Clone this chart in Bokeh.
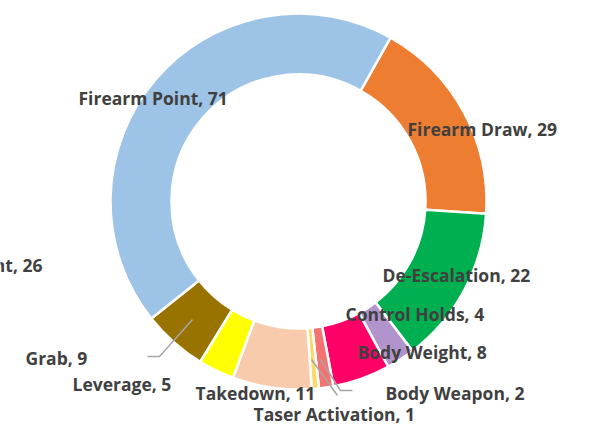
import numpy as np
from bokeh.plotting import figure
from bokeh.models import Range1d, ColumnDataSource
from bokeh.core.properties import value
from bokeh.embed import file_html
from bokeh.resources import INLINE

# ---- data ----
categories = ["Firearm Draw", "De-Escalation", "Control Holds", "Body Weight",
              "Body Weapon", "Taser Activation", "Takedown", "Leverage", "Grab",
              "Firearm Point"]
values = [29, 22, 4, 8, 2, 1, 11, 5, 9, 71]
colors = ["#ED7D31", "#00B050", "#B294CC", "#FF0066", "#F4726F", "#FFD966",
          "#F8CBAD", "#FFFF00", "#997300", "#9DC3E6"]
stray_label = "Restraint, 26"

# ---- layout ----
W, H = 589, 425
cx, cy = 298, H - 201
r_in, r_out = 127, 188
start_bearing = 29.3  # degrees clockwise from 12 o'clock

# label positions (left x, middle y) in image coordinates
label_pos = {
    "Firearm Draw": (407, 128),
    "De-Escalation": (382, 274),
    "Control Holds": (345, 313),
    "Body Weight": (357, 351),
    "Body Weapon": (385, 392),
    "Taser Activation": (253, 413),
    "Takedown": (195, 392),
    "Leverage": (72, 383),
    "Grab": (25, 357),
    "Firearm Point": (78, 97),
}
leaders = {
    "Grab": [(147, 356), (159, 356), (192, 319)],
    "Body Weapon": [(352, 390), (340, 390), (320, 359)],
    "Taser Activation": [(337, 395), (311, 359)],
}

vals = np.array(values, dtype=float)
total = vals.sum()
cum = np.cumsum(vals)
b0 = start_bearing + 360 * (cum - vals) / total
b1 = start_bearing + 360 * cum / total
src = ColumnDataSource(dict(
    cat=categories, val=values, color=colors,
    start=np.radians(90 - b1), end=np.radians(90 - b0),
))

p = figure(width=W, height=H, x_range=Range1d(0, W), y_range=Range1d(0, H),
           output_backend="svg", toolbar_location=None, min_border=0,
           background_fill_color="white", border_fill_color="white")
p.axis.visible = False
p.grid.visible = False
p.outline_line_color = None
p.styles = {"position": "absolute", "left": "0px", "top": "0px"}

p.annular_wedge(x=cx, y=cy, inner_radius=r_in, outer_radius=r_out,
                start_angle="start", end_angle="end", fill_color="color",
                line_color="white", line_width=2.5, source=src)

for name, pts in leaders.items():
    p.line([q[0] for q in pts], [H - q[1] for q in pts],
           line_color="#A6A6A6", line_width=1.5)

FONT = value("Open Sans")
lx = [label_pos[c][0] for c in categories]
ly = [H - label_pos[c][1] for c in categories]
lt = [f"{c}, {v}" for c, v in zip(categories, values)]
p.text(x=lx, y=ly, text=lt, text_font=FONT, text_font_style="bold",
       text_font_size="17.5px", text_color="#404040", text_align="left",
       text_baseline="middle")
p.text(x=[42], y=[H - 264], text=[stray_label], text_font=FONT,
       text_font_style="bold", text_font_size="17.5px", text_color="#404040",
       text_align="right", text_baseline="middle")

open("out.html", "w").write(file_html(p, INLINE))
